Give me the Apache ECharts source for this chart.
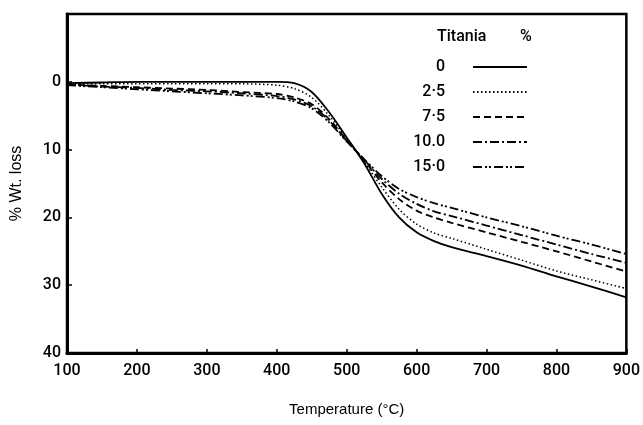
<!DOCTYPE html>
<html>
<head>
<meta charset="utf-8">
<script src="https://cdn.jsdelivr.net/npm/echarts@6/dist/echarts.min.js"></script>
<style>html,body{margin:0;padding:0;background:#fff}#c{width:643px;height:425px}</style>
</head>
<body>
<div id="c"></div>
<script>
const temps = [100,150,200,250,300,350,400,425,450,475,500,525,550,575,600,625,650,700,750,800,850,900];
const seriesNames = ['0','2·5','7·5','10.0','15·0'];
const loss0   = [0.2,0.1,0,0,0,0,0,0.2,1.5,4.5,8.2,12,16.5,20,22.2,23.5,24.4,25.7,27.1,28.7,30.2,31.8];
const loss2_5 = [0.3,0.3,0.3,0.3,0.3,0.3,0.5,1.0,2.3,5,8.4,11.8,15.5,18.8,21,22.3,23.1,24.7,26.3,27.9,29.2,30.5];
const loss7_5 = [0.4,0.6,0.8,1.0,1.2,1.5,1.8,2.3,3.3,5.5,8.6,11.6,14.8,17.3,19,20,20.8,22.2,23.6,25,26.5,28];
const loss10  = [0.4,0.7,0.9,1.2,1.4,1.7,2.1,2.6,3.6,5.7,8.7,11.5,14.3,16.5,18,19.1,19.8,21.2,22.6,24,25.4,26.7];
const loss15  = [0.5,0.8,1.1,1.4,1.7,2.0,2.4,2.9,3.9,6,8.8,11.4,13.9,15.8,17,17.9,18.6,20,21.3,22.7,24,25.4];
const xTicks = [100,200,300,400,500,600,700,800,900];
const yTicks = [0,10,20,30,40];

const allLoss = [loss0, loss2_5, loss7_5, loss10, loss15];
const dashes = ['solid', [1.5,2.5], [7,4], [9,3,2,3], [9,3,2,2,2,3]];
const widths = [1.8, 1.5, 1.8, 1.8, 1.8];

const chart = echarts.init(document.getElementById('c'));
const labelFont = 'Roboto,"Liberation Sans",sans-serif';
chart.setOption({
  animation: false,
  backgroundColor: '#fff',
  grid: {left: 67, right: 6, top: 14, bottom: 72, show: true, borderColor: '#000', borderWidth: 2.5},
  xAxis: {
    type: 'value', min: xTicks[0], max: xTicks[xTicks.length-1], interval: 100,
    name: 'Temperature (°C)', nameLocation: 'middle', nameGap: 49,
    nameTextStyle: {color: '#000', fontSize: 15, fontFamily: '"Liberation Sans",Arial,sans-serif'},
    axisLine: {onZero: false, lineStyle: {color: '#000', width: 3}},
    axisTick: {inside: true, length: 4, lineStyle: {color: '#000', width: 1.5}},
    axisLabel: {color: '#000', fontSize: 16, fontWeight: 500, fontFamily: labelFont, margin: 10},
    splitLine: {show: false}
  },
  yAxis: {
    type: 'value', min: -10, max: 40, interval: 10, inverse: true,
    name: '% Wt. loss', nameLocation: 'middle', nameGap: 42, nameRotate: 90,
    nameTextStyle: {color: '#000', fontSize: 16, fontFamily: '"Liberation Sans",Arial,sans-serif'},
    axisLine: {onZero: false, lineStyle: {color: '#000', width: 3}},
    axisTick: {inside: true, length: 5, lineStyle: {color: '#000', width: 1.5}},
    axisLabel: {color: '#000', fontSize: 16, fontWeight: 500, fontFamily: labelFont, margin: 6,
      formatter: v => (yTicks.indexOf(v) >= 0 ? String(v) : '')},
    splitLine: {show: false}
  },
  legend: {
    orient: 'vertical', align: 'right', left: 400, top: 54,
    itemWidth: 54, itemHeight: 14, itemGap: 9,
    data: seriesNames,
    itemStyle: {opacity: 0},
    formatter: n => '{a|' + n + '}',
    textStyle: {color: '#000', fontSize: 16, fontFamily: labelFont,
      rich: {a: {width: 40, align: 'right', lineHeight: 14, padding: [0, 23, 0, 0], fontSize: 16, fontWeight: 500, fontFamily: labelFont, color: '#000'}}}
  },
  graphic: [
    {type: 'text', left: 437, top: 29, style: {text: 'Titania', fill: '#000', fontSize: 16, fontWeight: 500, fontFamily: labelFont}},
    {type: 'text', left: 520, top: 29, style: {text: '%', fill: '#000', fontSize: 16, fontWeight: 500, fontFamily: labelFont}}
  ],
  series: seriesNames.map((n, i) => ({
    name: n, type: 'line', smooth: 0.3, symbol: 'none',
    data: temps.map((t, j) => [t, allLoss[i][j]]),
    lineStyle: {color: '#000', width: widths[i], type: dashes[i]},
    itemStyle: {color: '#000'}
  }))
});
</script>
</body>
</html>
